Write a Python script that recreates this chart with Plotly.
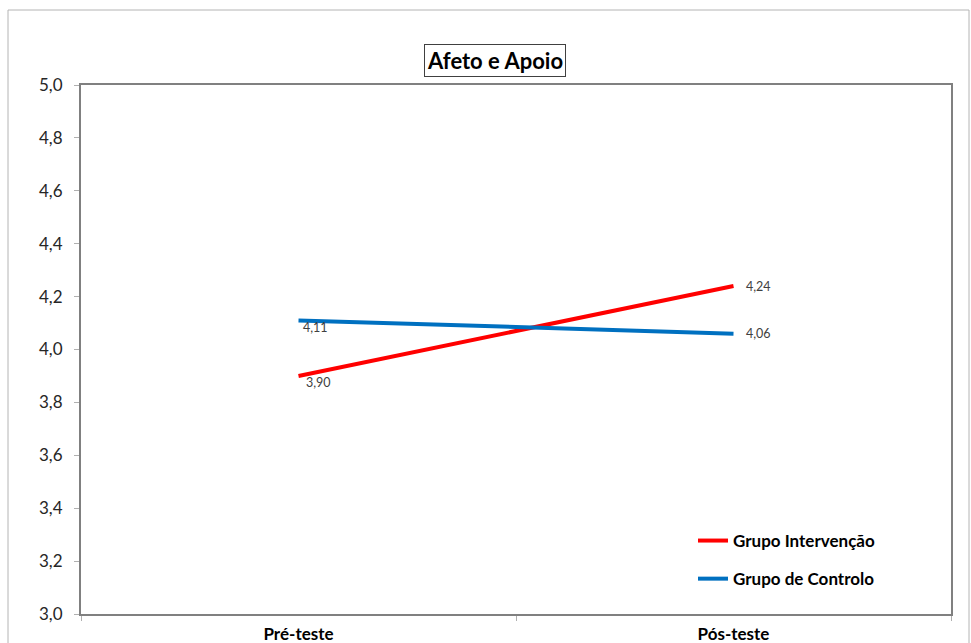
import plotly.graph_objects as go

categories = ["Pré-teste", "Pós-teste"]
intervencao = [3.90, 4.24]
controlo = [4.11, 4.06]
series_names = ["Grupo Intervenção", "Grupo de Controlo"]
y_ticks = [3.0, 3.2, 3.4, 3.6, 3.8, 4.0, 4.2, 4.4, 4.6, 4.8, 5.0]

FONT = "Lato"
W, H = 971, 643
L, R, T, B = 81, 20, 85, 29
pw, ph = W - L - R, H - T - B

def fmt(v):
    return f"{v:.2f}".replace(".", ",")

fig = go.Figure()
fig.add_trace(go.Scatter(
    x=categories, y=intervencao, name=series_names[0], mode="lines",
    line=dict(color="#FF0000", width=4), legendgroup="a",
))
fig.add_trace(go.Scatter(
    x=categories, y=controlo, name=series_names[1], mode="lines",
    line=dict(color="#0070C0", width=4), legendgroup="b",
))

def px_x(x):
    return (x - L) / pw

def px_y(y):
    return (H - B - y) / ph

annotations = []
# data labels: first point below-right, second point to the right
for series in (intervencao, controlo):
    for i, (c, v) in enumerate(zip(categories, series)):
        if i == 0:
            annotations.append(dict(x=c, y=v, text=fmt(v), showarrow=False,
                                    xanchor="left", yanchor="middle",
                                    xshift=2 if series is controlo else 5, yshift=-7,
                                    font=dict(family=FONT, size=12.5, color="#404040")))
        else:
            annotations.append(dict(x=c, y=v, text=fmt(v), showarrow=False,
                                    xanchor="left", yanchor="middle",
                                    xshift=10, yshift=0,
                                    font=dict(family=FONT, size=12.5, color="#404040")))

annotations.append(dict(
    text="<b>Afeto e Apoio</b>", xref="paper", yref="paper",
    x=px_x(495), y=px_y(60), xanchor="center", yanchor="middle",
    showarrow=False, font=dict(family=FONT, size=22, color="#000000"),
    bordercolor="#404040", borderwidth=1, borderpad=2, bgcolor="white",
))

fig.update_layout(
    width=W, height=H,
    margin=dict(l=L, r=R, t=T, b=B, pad=0, autoexpand=False),
    paper_bgcolor="white", plot_bgcolor="white",
    separators=",.",
    font=dict(family=FONT, size=14, color="#262626"),
    showlegend=True,
    legend=dict(
        x=px_x(693), y=px_y(523), xanchor="left", yanchor="top",
        font=dict(family=FONT, size=17, color="#000000", weight="bold"),
        bgcolor="rgba(0,0,0,0)", tracegroupgap=13, traceorder="grouped",
        itemwidth=30,
    ),
    xaxis=dict(
        type="category", range=[-0.5, 1.5], showgrid=False, zeroline=False,
        showline=True, linecolor="#808080", linewidth=2, mirror=True,
        ticks="outside", tickson="boundaries", ticklen=5, tickcolor="#b0b0b0",
        tickfont=dict(family=FONT, size=17, color="#000000", weight="bold"),
        ticklabelstandoff=4, automargin=False,
        fixedrange=True,
    ),
    yaxis=dict(
        range=[3.0, 5.0], tickvals=y_ticks, tickformat=".1f", showgrid=False,
        zeroline=False, showline=True, linecolor="#808080", linewidth=2, mirror=True,
        ticks="outside", ticklen=5, tickcolor="#b0b0b0",
        tickfont=dict(family=FONT, size=17, color="#262626"),
        ticklabelstandoff=8, automargin=False,
        fixedrange=True,
    ),
    shapes=[dict(
        type="rect", xref="paper", yref="paper",
        x0=px_x(8), x1=px_x(969), y0=px_y(660), y1=px_y(10),
        line=dict(color="#b4b4b4", width=1), fillcolor="rgba(0,0,0,0)", layer="below",
    )],
    annotations=annotations,
)

fig.write_html("out.html")
